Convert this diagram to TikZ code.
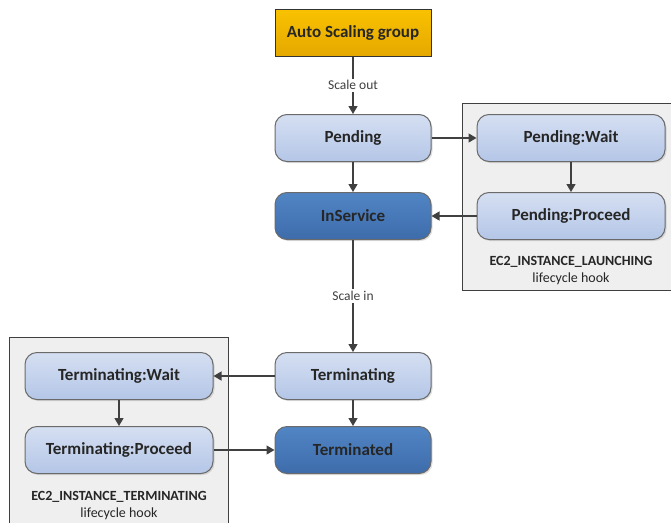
\documentclass[tikz,border=0pt]{standalone}
\usepackage{fontspec}
\setmainfont{Carlito}
\usetikzlibrary{arrows.meta,shadows}
\definecolor{lbtop}{HTML}{D5DFF2}
\definecolor{lbbot}{HTML}{B4C6E7}
\definecolor{dbtop}{HTML}{5185C4}
\definecolor{dbbot}{HTML}{3E6CAB}
\definecolor{ortop}{HTML}{F9C200}
\definecolor{orbot}{HTML}{E5A800}
\definecolor{hookfill}{HTML}{EFEFEF}
\definecolor{linegray}{HTML}{404040}
\definecolor{bordergray}{HTML}{6A6A6A}
\tikzset{
  x=1pt,y=-1pt,
  state/.style={rounded corners=12pt, minimum width=156pt, minimum height=47pt,
    draw=bordergray, line width=1pt, font=\fontsize{17}{20}\selectfont\bfseries,
    text=black!85, drop shadow={shadow xshift=1.5pt,shadow yshift=-1.5pt,opacity=0.25}},
  light/.style={state, top color=lbtop, bottom color=lbbot},
  dark/.style={state, top color=dbtop, bottom color=dbbot},
  hookstate/.style={light, minimum width=188pt},
  asg/.style={draw=black!80, line width=1pt, minimum width=156pt, minimum height=47pt,
    top color=ortop, bottom color=orbot, font=\fontsize{17}{20}\selectfont\bfseries, text=black!85},
  hookbox/.style={draw=black!75, line width=0.8pt, fill=hookfill},
  conn/.style={draw=linegray, line width=1.3pt, -{Triangle[width=9pt,length=8pt]}},
  lbl/.style={fill=white, font=\fontsize{13.5}{16}\selectfont, text=black!75, inner sep=2pt},
  hooklbl/.style={font=\fontsize{14}{16}\selectfont, text=black!85, align=center, inner sep=0pt}
}
\begin{document}
\begin{tikzpicture}
\useasboundingbox (0,0) rectangle (671,522);
\clip (0,0) rectangle (671,522);
\fill[white] (0,0) rectangle (671,522);
% lifecycle hook boxes
\draw[hookbox] (462,103) rectangle (680,290);
\draw[hookbox] (9.5,337) rectangle (228,530);
% nodes
\node[asg] (asg) at (353,32.5) {Auto Scaling group};
\node[light] (pend) at (353,138) {Pending};
\node[dark] (insvc) at (353,216) {InService};
\node[hookstate] (pwait) at (571,138) {Pending:Wait};
\node[hookstate] (pproc) at (571,216) {Pending:Proceed};
\node[light] (term) at (353,376) {Terminating};
\node[dark] (termd) at (353,450) {Terminated};
\node[hookstate] (twait) at (119,376) {Terminating:Wait};
\node[hookstate] (tproc) at (119,450) {Terminating:Proceed};
\node[hooklbl] (lhook) at (571,271) {\textbf{EC2\_INSTANCE\_LAUNCHING}\\[1pt]lifecycle hook};
\node[hooklbl] (thook) at (119,505.5) {\textbf{EC2\_INSTANCE\_TERMINATING}\\[1pt]lifecycle hook};
% connectors
\draw[conn] (asg) -- node[lbl, pos=0.5] (so) {Scale out} (pend);
\draw[conn] (pend) -- (insvc);
\draw[conn] (pend) -- (pwait);
\draw[conn] (pwait) -- (pproc);
\draw[conn] (pproc.west) -- (insvc.east);
\draw[conn] (insvc) -- node[lbl, pos=0.5] (si) {Scale in} (term);
\draw[conn] (term) -- (twait);
\draw[conn] (twait) -- (tproc);
\draw[conn] (tproc) -- (termd);
\draw[conn] (term) -- (termd);
\end{tikzpicture}
\end{document}
